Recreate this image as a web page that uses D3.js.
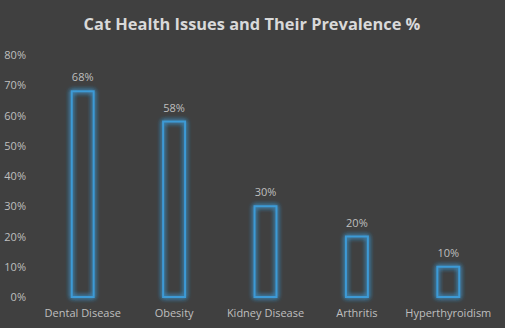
<!DOCTYPE html>
<html>
<head>
<meta charset="utf-8">
<script src="https://cdn.jsdelivr.net/npm/d3@7"></script>
<style>
body{margin:0;background:#404040;}
svg{display:block;}
</style>
</head>
<body>
<div id="chart"></div>
<script>
var categories = ["Dental Disease","Obesity","Kidney Disease","Arthritis","Hyperthyroidism"]
var prevalence = [68,58,30,20,10]
var yTicks = [0,10,20,30,40,50,60,70,80]

var W = 505, H = 328
var plotL = 37, plotR = 494, plotT = 55, plotB = 297

var svg = d3.select("#chart").append("svg").attr("width",W).attr("height",H)
svg.append("rect").attr("width",W).attr("height",H).attr("fill","#404040")

// soft blue glow round the bar outlines
var f = svg.append("defs").append("filter").attr("id","glow")
	.attr("x","-50%").attr("y","-20%").attr("width","200%").attr("height","140%")
f.append("feGaussianBlur").attr("in","SourceGraphic").attr("stdDeviation",2.5).attr("result","b")
var m = f.append("feMerge")
m.append("feMergeNode").attr("in","b")
m.append("feMergeNode").attr("in","b")
m.append("feMergeNode").attr("in","SourceGraphic")

var x = d3.scaleBand().domain(categories).range([plotL,plotR]).paddingInner(0.76).paddingOuter(0.38)
var y = d3.scaleLinear().domain([0,80]).range([plotB,plotT])

svg.append("text").attr("x",252).attr("y",30).attr("text-anchor","middle")
	.style("font-family","'Open Sans', sans-serif").style("font-weight","bold").style("font-size","16.4px")
	.attr("fill","#d9d9d9").text("Cat Health Issues and Their Prevalence %")

var yAxis = svg.append("g").attr("transform","translate(26,0)")
	.call(d3.axisLeft(y).tickValues(yTicks).tickSize(0).tickPadding(0).tickFormat(function(d){return d+"%"}))
yAxis.select(".domain").remove()
yAxis.selectAll("text").attr("fill","#bfbfbf").style("font-family","'Open Sans', sans-serif").style("font-size","11px")

var xAxis = svg.append("g").attr("transform","translate(0,"+(plotB+8)+")")
	.call(d3.axisBottom(x).tickSize(0).tickPadding(4))
xAxis.select(".domain").remove()
xAxis.selectAll("text").attr("fill","#bfbfbf").style("font-family","'Open Sans', sans-serif").style("font-size","11px")

var bars = svg.selectAll(".bar").data(prevalence).enter().append("g").attr("class","bar")
bars.append("rect")
	.attr("x",function(d,i){return x(categories[i])})
	.attr("y",function(d){return y(d)})
	.attr("width",x.bandwidth())
	.attr("height",function(d){return plotB-y(d)})
	.attr("fill","none").attr("stroke","#3c9ad6").attr("stroke-width",2)
	.attr("filter","url(#glow)")
bars.append("text")
	.attr("x",function(d,i){return x(categories[i])+x.bandwidth()/2})
	.attr("y",function(d){return y(d)-10})
	.attr("text-anchor","middle")
	.attr("fill","#bfbfbf").style("font-family","'Open Sans', sans-serif").style("font-size","11px")
	.text(function(d){return d+"%"})
</script>
</body>
</html>
